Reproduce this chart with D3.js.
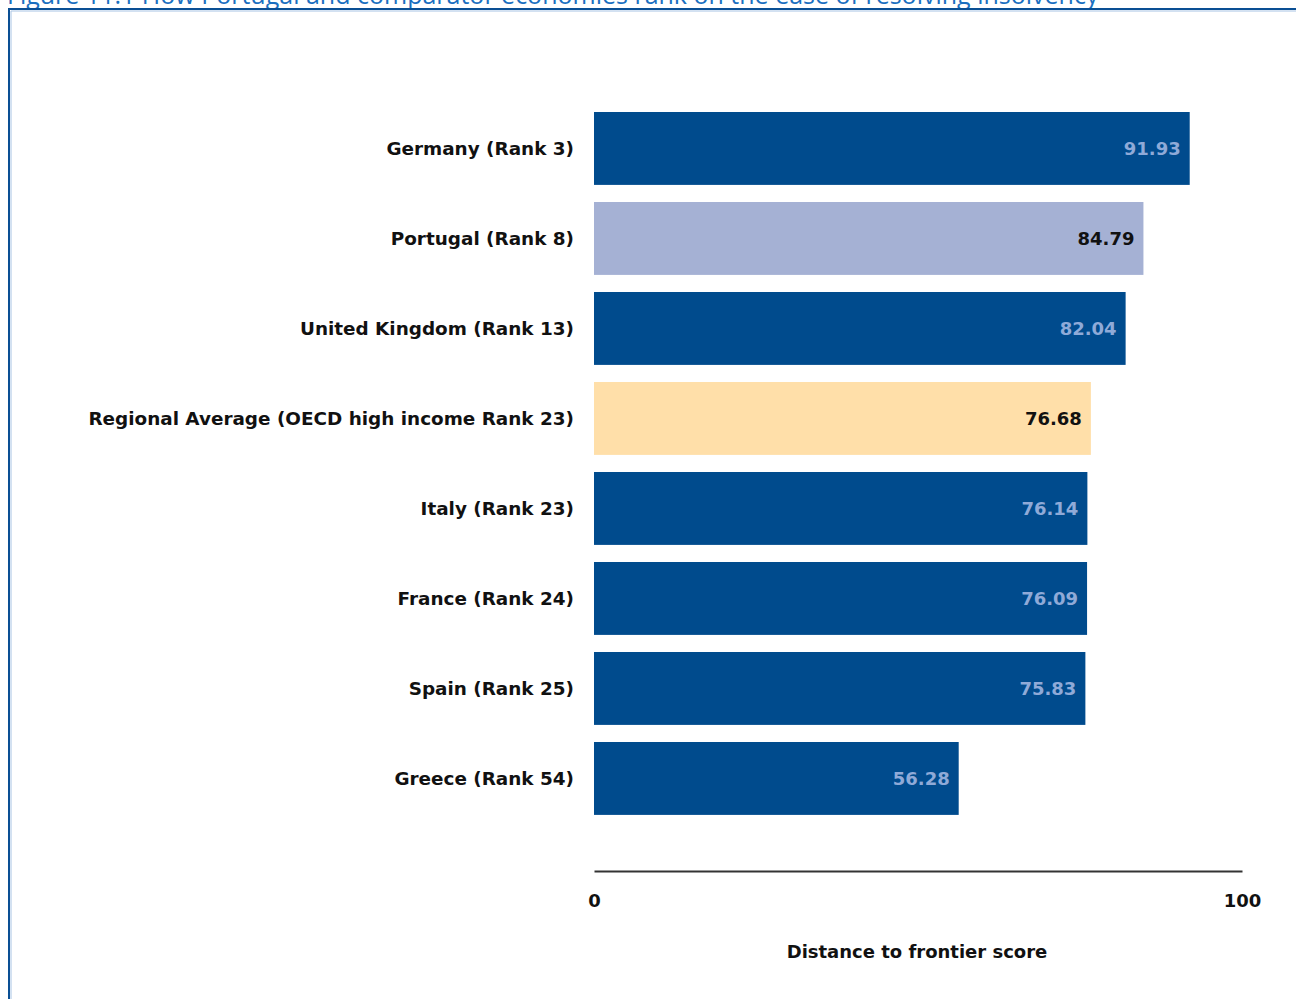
<!DOCTYPE html>
<head>
    <title>Resolving insolvency ranking</title>
    <script src="https://d3js.org/d3.v7.min.js"></script>
    <style>
      body { margin: 0; background: #fff; }
      text { font-family: "DejaVu Sans", sans-serif; }
    </style>
</head>

<body>
    <div id="svg-container">
        <svg width=1296 height=999></svg>
    </div>
</body>

<script>
// chart data
const economies = ["Germany (Rank 3)", "Portugal (Rank 8)", "United Kingdom (Rank 13)",
  "Regional Average (OECD high income Rank 23)", "Italy (Rank 23)", "France (Rank 24)",
  "Spain (Rank 25)", "Greece (Rank 54)"];
const scores = [91.93, 84.79, 82.04, 76.68, 76.14, 76.09, 75.83, 56.28];
const barKind = ["other", "focus", "other", "region", "other", "other", "other", "other"];
const xTicks = [0, 100];

const svg = d3.select("svg");

// figure title (cut at the top) and frame
svg.append("text")
  .attr("x", 7).attr("y", 4)
  .attr("font-size", "25px")
  .attr("fill", "#1a6fc0")
  .style("font-family", '"Open Sans", sans-serif')
  .text("Figure 11.1 How Portugal and comparator economies rank on the ease of resolving insolvency");

svg.append("path")
  .attr("d", "M9,999 V9 H1296")
  .attr("fill", "none")
  .attr("stroke", "#0a4f94")
  .attr("stroke-width", 2);
svg.append("path")
  .attr("d", "M11,999 V11 H1296")
  .attr("fill", "none")
  .attr("stroke", "#a8c4e4")
  .attr("stroke-width", 1);

var x = d3.scaleLinear().domain([0, 100]).range([594, 1242]);
var y = d3.scaleBand().domain(economies).range([103, 823.9]).paddingInner(0.19).paddingOuter(0.1);

const fill = { other: "#004b8d", focus: "#a5b1d4", region: "#ffdfa9" };
const valColor = { other: "#8faad8", focus: "#111", region: "#111" };

var rows = svg.append("g")
  .selectAll("g")
  .data(economies)
  .enter()
  .append("g");

rows.append("rect")
  .attr("x", x(0))
  .attr("y", d => y(d))
  .attr("width", (d, i) => x(scores[i]) - x(0))
  .attr("height", y.bandwidth())
  .attr("fill", (d, i) => fill[barKind[i]]);

rows.append("text")
  .attr("x", x(0) - 20)
  .attr("y", d => y(d) + y.bandwidth() / 2)
  .attr("dy", "0.35em")
  .attr("text-anchor", "end")
  .attr("font-size", "18.4px")
  .attr("font-weight", "bold")
  .attr("fill", "#111")
  .text(d => d);

rows.append("text")
  .attr("x", (d, i) => x(scores[i]) - 9)
  .attr("y", d => y(d) + y.bandwidth() / 2)
  .attr("dy", "0.35em")
  .attr("text-anchor", "end")
  .attr("font-size", "18px")
  .attr("font-weight", "bold")
  .attr("fill", (d, i) => valColor[barKind[i]])
  .text((d, i) => scores[i].toFixed(2));

// x axis: plain line, end labels only
var xAxis = svg.append("g")
  .attr("transform", "translate(0,871)")
  .call(d3.axisBottom(x).tickValues(xTicks).tickSize(0).tickPadding(23));
xAxis.select(".domain").attr("stroke", "#333").attr("stroke-width", 2);
xAxis.selectAll("text")
  .attr("font-size", "18px")
  .attr("font-weight", "bold")
  .attr("fill", "#111")
  .style("font-family", '"DejaVu Sans", sans-serif');

svg.append("text")
  .attr("x", 917).attr("y", 958)
  .attr("text-anchor", "middle")
  .attr("font-size", "18px")
  .attr("font-weight", "bold")
  .attr("fill", "#111")
  .text("Distance to frontier score");
</script>
